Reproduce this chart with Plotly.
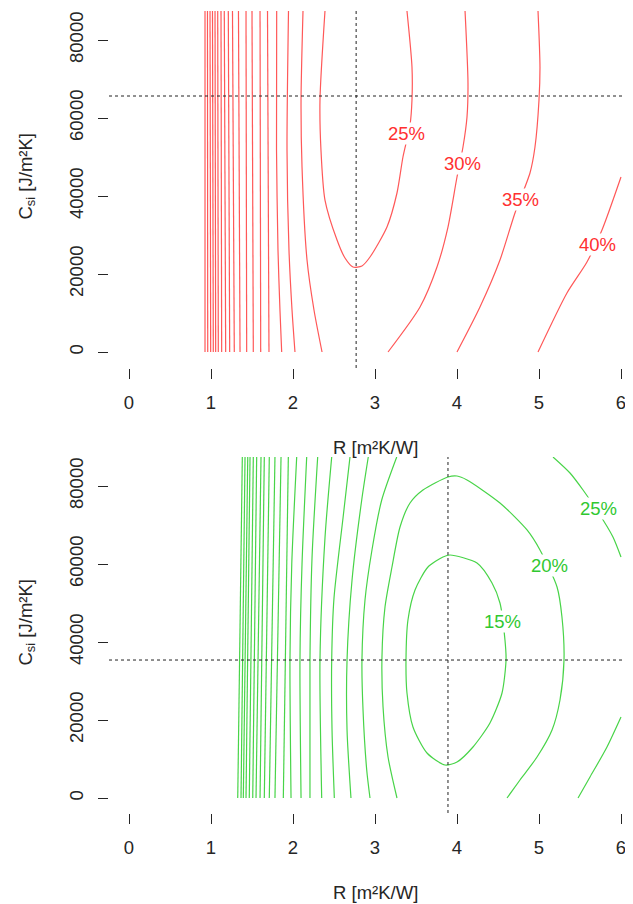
import plotly.graph_objects as go

# ---------------- data ----------------
C_TOP = 87436            # upper edge of the computed grid [J/m2K]
x_ticks = [0, 1, 2, 3, 4, 5, 6]
y_ticks = [0, 20000, 40000, 60000, 80000]

# ---- top panel (red) ----
top_dense_levels = [45, 50, 55, 60, 65, 70, 75, 80, 85, 90, 95, 100, 105, 110, 115]
top_dense_r_top = [1.689, 1.598, 1.500, 1.427, 1.335, 1.262, 1.211, 1.162, 1.122,
                   1.082, 1.049, 1.018, 0.988, 0.957, 0.927]
top_dense_r_bottom = [1.707, 1.606, 1.516, 1.435, 1.354, 1.284, 1.228, 1.179, 1.130,
                      1.089, 1.057, 1.028, 0.996, 0.960, 0.927]

top_left_c = [C_TOP, 51800, 26150, 10770, 0]
top_40_left_r = [1.801, 1.799, 1.817, 1.841, 1.862]
top_35_left_r = [1.945, 1.927, 1.951, 1.988, 2.024]

top_30_left_r = [2.122, 2.098, 2.110, 2.171, 2.256, 2.354]
top_30_left_c = [C_TOP, 64620, 47440, 23590, 10770, 0]

top_25_r = [2.390, 2.329, 2.341, 2.390, 2.537, 2.634, 2.732, 2.841, 2.939, 3.146,
            3.268, 3.341, 3.427, 3.451, 3.451, 3.390]
top_25_c = [C_TOP, 64620, 51800, 38970, 28720, 24100, 21790, 22050, 24360, 32050,
            40770, 50000, 58200, 64620, 73080, C_TOP]

top_30_right_r = [4.098, 4.134, 4.122, 4.073, 4.000, 3.890, 3.756, 3.549, 3.159]
top_30_right_c = [C_TOP, 68970, 60260, 52560, 44870, 32050, 21790, 11540, 0]

top_35_right_r = [4.988, 5.012, 5.000, 4.951, 4.890, 4.707, 4.524, 4.280, 4.000]
top_35_right_c = [C_TOP, 73080, 64620, 52560, 45900, 35640, 23590, 11540, 0]

top_40_right_r = [6.000, 5.768, 5.585, 5.341, 4.988]
top_40_right_c = [44870, 31280, 23080, 15130, 0]

top_labels = ["25%", "30%", "35%", "40%"]
top_labels_r = [3.38, 4.07, 4.78, 5.71]
top_labels_c = [56150, 48460, 39220, 27690]

top_opt_r = 2.77
top_opt_c = 65640

# ---- bottom panel (green) ----
bot_dense_levels = [60, 65, 70, 75, 80, 85, 90, 95, 100, 105, 110, 115]
bot_dense_r_top = [1.943, 1.854, 1.780, 1.711, 1.650, 1.610, 1.557, 1.516, 1.476,
                   1.448, 1.415, 1.382]
bot_dense_r_bottom = [1.882, 1.780, 1.711, 1.650, 1.598, 1.549, 1.509, 1.467, 1.427,
                      1.394, 1.366, 1.326]

bot_55_r = [2.045, 1.985, 1.963, 1.976]
bot_55_c = [C_TOP, 60000, 35380, 0]
bot_50_r = [2.167, 2.110, 2.085, 2.098]
bot_50_c = [C_TOP, 60000, 35380, 0]
bot_45_r = [2.301, 2.232, 2.207, 2.207]
bot_45_c = [C_TOP, 61540, 35380, 0]
bot_40_r = [2.472, 2.390, 2.329, 2.350]
bot_40_c = [C_TOP, 66670, 35380, 0]
bot_35_r = [2.695, 2.610, 2.500, 2.472, 2.476, 2.504]
bot_35_c = [C_TOP, 71800, 51280, 35380, 17440, 0]
bot_30_r = [2.918, 2.838, 2.720, 2.659, 2.659, 2.707]
bot_30_c = [C_TOP, 76410, 55900, 35380, 17440, 0]
bot_25_left_r = [3.265, 3.082, 2.963, 2.878, 2.841, 2.854, 2.899, 2.939]
bot_25_left_c = [C_TOP, 76410, 63590, 50770, 35380, 22560, 7180, 0]

bot_20_r = [3.268, 3.159, 3.098, 3.085, 3.122, 3.207, 3.305, 3.427, 3.585, 3.890,
            4.000, 4.122, 4.524, 4.854, 5.012, 5.220, 5.280, 5.305, 5.256, 5.159,
            4.976, 4.768, 4.610]
bot_20_c = [0, 10510, 23330, 36150, 48970, 59230, 69490, 75640, 78970, 82310,
            82560, 81540, 75640, 68720, 63590, 54100, 46410, 35380, 25130, 17440,
            10510, 4620, 0]

bot_15_r = [3.915, 4.244, 4.427, 4.524, 4.585, 4.598, 4.549, 4.402, 4.195, 4.000,
            3.854, 3.634, 3.463, 3.390, 3.378, 3.402, 3.488, 3.646, 3.829, 3.915]
bot_15_c = [62310, 60260, 55130, 50000, 40510, 35380, 26920, 19230, 13080, 9230,
            8460, 11540, 18210, 26920, 35380, 45640, 53330, 59230, 61790, 62310]

bot_25_topright_r = [5.171, 5.378, 5.537, 5.720, 5.902, 6.000]
bot_25_topright_c = [C_TOP, 83330, 78970, 73330, 66920, 61790]
bot_25_botright_r = [6.000, 5.829, 5.622, 5.476]
bot_25_botright_c = [20770, 13080, 5380, 0]

bot_labels = ["25%", "20%", "15%"]
bot_labels_r = [5.73, 5.13, 4.55]
bot_labels_c = [74360, 59740, 45130]

bot_opt_r = 3.89
bot_opt_c = 35380

# ---------------- styling / layout ----------------
RED_LINE = "#FF5858"
RED_TEXT = "#FF3030"
GREEN_LINE = "#48D448"
GREEN_TEXT = "#30C830"
AXIS_COL = "#262626"
FONT = "Liberation Sans, Arial, sans-serif"
FS = 18.5
LW = 1.2

OFF = 8                      # page body margin of the browser
W, H = 633 - OFF, 904 - OFF
M_L, M_R, M_T, M_B = 109 - OFF, 0, 11 - OFF, 91
PX_PER_R = 82.0
R0_PX = 129.0 - OFF
PX_PER_C = 20000 / 78.0

x_range = [(M_L - R0_PX) / PX_PER_R, (W - M_R - R0_PX) / PX_PER_R]
plot_h = H - M_T - M_B
bottom_px = H - M_B


def frac(py_ref):
    return (bottom_px - (py_ref - OFF)) / plot_h


top_dom = [frac(368), 1.0]
bot_dom = [0.0, frac(457)]
top_yrange = [-(368 - 352) * PX_PER_C, (352 - 11) * PX_PER_C]
bot_yrange = [-(813 - 798) * PX_PER_C, (798 - 457) * PX_PER_C]

fig = go.Figure()


def add_line(r, c, color, axis):
    fig.add_trace(go.Scatter(
        x=r, y=c, mode="lines",
        line=dict(color=color, width=LW, shape="spline", smoothing=0.7),
        xaxis="x" if axis == 1 else "x2", yaxis="y" if axis == 1 else "y2",
        hoverinfo="skip", showlegend=False))


# top panel
for rt, rb in zip(top_dense_r_top, top_dense_r_bottom):
    add_line([rt, rb], [C_TOP, 0], RED_LINE, 1)
add_line(top_40_left_r, top_left_c, RED_LINE, 1)
add_line(top_35_left_r, top_left_c, RED_LINE, 1)
add_line(top_30_left_r, top_30_left_c, RED_LINE, 1)
add_line(top_25_r, top_25_c, RED_LINE, 1)
add_line(top_30_right_r, top_30_right_c, RED_LINE, 1)
add_line(top_35_right_r, top_35_right_c, RED_LINE, 1)
add_line(top_40_right_r, top_40_right_c, RED_LINE, 1)

# bottom panel
for rt, rb in zip(bot_dense_r_top, bot_dense_r_bottom):
    add_line([rt, rb], [C_TOP, 0], GREEN_LINE, 2)
for r, c in [(bot_55_r, bot_55_c), (bot_50_r, bot_50_c), (bot_45_r, bot_45_c),
             (bot_40_r, bot_40_c), (bot_35_r, bot_35_c), (bot_30_r, bot_30_c),
             (bot_25_left_r, bot_25_left_c), (bot_20_r, bot_20_c),
             (bot_15_r, bot_15_c), (bot_25_topright_r, bot_25_topright_c),
             (bot_25_botright_r, bot_25_botright_c)]:
    add_line(r, c, GREEN_LINE, 2)

annotations = []
for t, r, c in zip(top_labels, top_labels_r, top_labels_c):
    annotations.append(dict(x=r, y=c, xref="x", yref="y", text=t, showarrow=False,
                            font=dict(family=FONT, size=FS, color=RED_TEXT),
                            bgcolor="white", borderpad=0))
for t, r, c in zip(bot_labels, bot_labels_r, bot_labels_c):
    annotations.append(dict(x=r, y=c, xref="x2", yref="y2", text=t, showarrow=False,
                            font=dict(family=FONT, size=FS, color=GREEN_TEXT),
                            bgcolor="white", borderpad=0))

# axis titles
for yref, py in [("y", 447), ("y2", 892)]:
    annotations.append(dict(x=3, y=frac(py), xref="x" if yref == "y" else "x2",
                            yref="paper", text="R [m²K/W]", showarrow=False,
                            yanchor="middle",
                            font=dict(family=FONT, size=FS, color=AXIS_COL)))
    annotations.append(dict(x=(26 - OFF - M_L) / (W - M_L - M_R), y=45000,
                            xref="paper", yref=yref, text="C<sub>si</sub> [J/m²K]",
                            showarrow=False, textangle=-90, xanchor="center",
                            yanchor="middle",
                            font=dict(family=FONT, size=FS, color=AXIS_COL)))

# optimum dotted cross-hairs
shapes = []
dot = dict(color="#222222", width=1, dash="dot")
line_end_r = (625 - 129) / PX_PER_R
for xr, yr, ro, co, yrng in [("x", "y", top_opt_r, top_opt_c, top_yrange),
                             ("x2", "y2", bot_opt_r, bot_opt_c, bot_yrange)]:
    shapes.append(dict(type="line", xref=xr, yref=yr, x0=x_range[0], x1=line_end_r,
                       y0=co, y1=co, line=dot))
    shapes.append(dict(type="line", xref=xr, yref=yr, x0=ro, x1=ro,
                       y0=yrng[0], y1=yrng[1], line=dot))

axis_common = dict(showgrid=False, zeroline=False, showline=False, ticks="outside",
                   ticklen=10, tickwidth=1, tickcolor=AXIS_COL,
                   tickfont=dict(family=FONT, size=FS, color=AXIS_COL))

fig.update_layout(
    width=W, height=H, margin=dict(l=M_L, r=M_R, t=M_T, b=M_B),
    paper_bgcolor="white", plot_bgcolor="white",
    xaxis=dict(axis_common, range=x_range, tickvals=x_ticks, anchor="y",
               domain=[0, 1], ticklabelstandoff=8),
    yaxis=dict(axis_common, range=top_yrange, tickvals=y_ticks, anchor="x",
               domain=top_dom, tickangle=-90, ticklabelstandoff=8, tickformat="d"),
    xaxis2=dict(axis_common, range=x_range, tickvals=x_ticks, anchor="y2",
                domain=[0, 1], ticklabelstandoff=8),
    yaxis2=dict(axis_common, range=bot_yrange, tickvals=y_ticks, anchor="x2",
                domain=bot_dom, tickangle=-90, ticklabelstandoff=8, tickformat="d"),
    annotations=annotations, shapes=shapes,
)

fig.write_html("out.html")
